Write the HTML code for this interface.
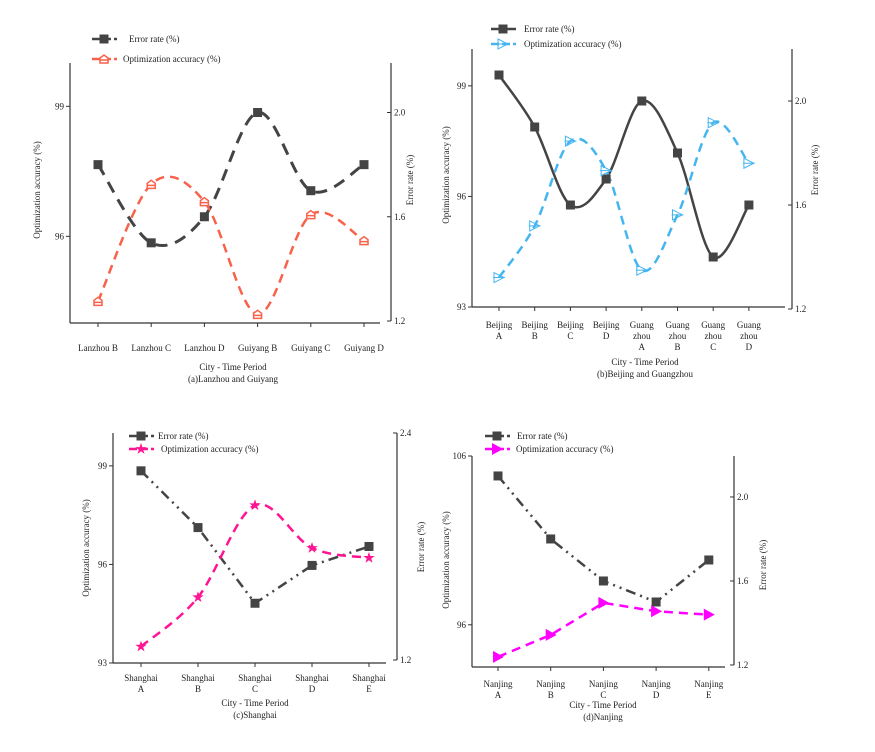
<!DOCTYPE html>
<html><head><meta charset="utf-8"><style>
html,body{margin:0;padding:0;background:#fff;width:875px;height:752px;overflow:hidden}
svg text{font-family:"Liberation Serif",serif;fill:#222}
</style></head><body>
<svg id="c" width="875" height="752"></svg>
<script>
// Panel (a)
const catsA = ["Lanzhou B","Lanzhou C","Lanzhou D","Guiyang B","Guiyang C","Guiyang D"];
const errA = [1.8,1.5,1.6,2.0,1.7,1.8];
const accA = [94.5,97.2,96.8,94.2,96.5,95.9];
const leftTicksA = [96,99];
const rightTicksA = [1.2,1.6,2.0];
// Panel (b)
const catsB = [["Beijing","A"],["Beijing","B"],["Beijing","C"],["Beijing","D"],["Guang","zhou","A"],["Guang","zhou","B"],["Guang","zhou","C"],["Guang","zhou","D"]];
const errB = [2.1,1.9,1.6,1.7,2.0,1.8,1.4,1.6];
const accB = [93.8,95.2,97.5,96.7,94.0,95.5,98.0,96.9];
const leftTicksB = [93,96,99];
const rightTicksB = [1.2,1.6,2.0];
// Panel (c)
const catsC = [["Shanghai","A"],["Shanghai","B"],["Shanghai","C"],["Shanghai","D"],["Shanghai","E"]];
const errC = [2.2,1.9,1.5,1.7,1.8];
const accC = [93.5,95.0,97.8,96.5,96.2];
const leftTicksC = [93,96,99];
const rightTicksC = [1.2,2.4];
// Panel (d)
const catsD = [["Nanjing","A"],["Nanjing","B"],["Nanjing","C"],["Nanjing","D"],["Nanjing","E"]];
const errD = [2.1,1.8,1.6,1.5,1.7];
const accD = [94.1,95.4,97.3,96.8,96.6];
const leftTicksD = [96,106];
const rightTicksD = [1.2,1.6,2.0];

const svg=document.getElementById('c');
const NS="http://www.w3.org/2000/svg";
function el(tag,attrs,parent){const e=document.createElementNS(NS,tag);for(const k in attrs)e.setAttribute(k,attrs[k]);(parent||svg).appendChild(e);return e;}
function txt(s,x,y,size,anchor,parent,rot){const t=el('text',{x:x,y:y,'font-size':size,'text-anchor':anchor||'middle'},parent);if(rot)t.setAttribute('transform',`rotate(${rot} ${x} ${y})`);t.textContent=s;return t;}
function smoothPath(pts){let d=`M${pts[0][0]},${pts[0][1]}`;for(let i=0;i<pts.length-1;i++){const p0=pts[i-1]||pts[i],p1=pts[i],p2=pts[i+1],p3=pts[i+2]||p2;const c1=[p1[0]+(p2[0]-p0[0])/6,p1[1]+(p2[1]-p0[1])/6],c2=[p2[0]-(p3[0]-p1[0])/6,p2[1]-(p3[1]-p1[1])/6];d+=` C${c1[0]},${c1[1]} ${c2[0]},${c2[1]} ${p2[0]},${p2[1]}`;}return d;}
function linePath(pts){return pts.map((p,i)=>(i?'L':'M')+p[0]+','+p[1]).join(' ');}
function marker(type,x,y,color,g){
  if(type==='square')return el('rect',{x:x-4.5,y:y-4.5,width:9,height:9,fill:'#444'},g);
  if(type==='house')return el('path',{d:`M${x-4},${y+4} L${x-4},${y-1} L${x},${y-4} L${x+4},${y-1} L${x+4},${y+4} Z M${x-4},${y+1} L${x+4},${y+1}`,fill:'#fff',stroke:color,'stroke-width':1.5},g);
  if(type==='otri')return el('path',{d:`M${x-5},${y-5} L${x+5},${y} L${x-5},${y+5} Z M${x-6},${y} L${x+6},${y}`,fill:'none',stroke:color,'stroke-width':1},g);
  if(type==='ftri')return el('path',{d:`M${x-5},${y-6} L${x+6},${y} L${x-5},${y+6} Z`,fill:color},g);
  if(type==='star'){let d='';for(let i=0;i<10;i++){const r=i%2?2.3:6,a=-Math.PI/2+i*Math.PI/5;d+=(i?'L':'M')+(x+r*Math.cos(a)).toFixed(1)+','+(y+r*Math.sin(a)).toFixed(1);}return el('path',{d:d+'Z',fill:color},g);}
}
function panel(P){
  const g=el('g',{});
  
  
  const ly=v=>P.lB-(v-P.lMin)/(P.lMax-P.lMin)*(P.lB-P.lT);
  const ry=v=>P.rB-(v-P.rMin)/(P.rMax-P.rMin)*(P.rB-P.rT);
  const xp=i=>P.x0+i*P.dx;
  // axes
  const ax=el('path',{d:`M${P.lx},${P.lT} L${P.lx},${P.lB} M${P.lx},${P.lB} L${P.xEnd},${P.lB} M${P.rx},${P.rT} L${P.rx},${P.rB}`,stroke:'#333','stroke-width':1.2,fill:'none'},g);
  
  
  P.lTicks.forEach(v=>{el('line',{x1:P.lx-4,x2:P.lx,y1:ly(v),y2:ly(v),stroke:'#333'},g);txt(String(v),P.lx-6,ly(v)+3,9,'end',g);});
  P.rTicks.forEach(v=>{el('line',{x1:P.rx,x2:P.rx-4,y1:ry(v),y2:ry(v),stroke:'#333'},g);txt(v.toFixed(1),P.rx+3,ry(v)+3,9,'start',g);});
  P.cats.forEach((c,i)=>{el('line',{x1:xp(i),x2:xp(i),y1:P.lB,y2:P.lB+4,stroke:'#333'},g);const lines=Array.isArray(c)?c:[c];lines.forEach((s,k)=>{const t=txt(s,xp(i),P.labY+k*11,9,'middle',g);});});
  const xt=txt('City - Time Period',P.cx,P.titY,9,'middle',g);
  const cp=txt(P.caption,P.cx,P.titY+12,9,'middle',g);
  const yl=txt('Optimization accuracy (%)',P.ltx,P.lty,9,'middle',g,-90);
  const yr=txt('Error rate (%)',P.rtx,P.rty,9,'middle',g,-90);
  // series
  const ep=P.err.map((v,i)=>[xp(i),ry(v)]);
  const ap=P.acc.map((v,i)=>[xp(i),ly(v)]);
  const e=el('path',{d:P.eSmooth?smoothPath(ep):linePath(ep),fill:'none',stroke:'#444','stroke-width':P.eW,'stroke-dasharray':P.eDash},g);
  
  
  const a=el('path',{d:P.aSmooth?smoothPath(ap):linePath(ap),fill:'none',stroke:P.aCol,'stroke-width':2.5,'stroke-dasharray':'9,6'},g);
  
  
  ep.forEach(p=>{const m=marker('square',p[0],p[1],'#444',g);});
  ap.forEach(p=>{const m=marker(P.aMark,p[0],p[1],P.aCol,g);});
  // legend
  const lg=el('g',{},g);
  
  
  el('line',{x1:P.legX,x2:P.legX+25,y1:P.legY,y2:P.legY,stroke:'#444','stroke-width':2.5,'stroke-dasharray':P.eDash==='none'?'none':'8,3'},lg);
  marker('square',P.legX+12,P.legY,'#444',lg);
  txt('Error rate (%)',P.legX+P.legT1,P.legY+3,9,'start',lg);
  el('line',{x1:P.legX,x2:P.legX+25,y1:P.legY+P.legD,y2:P.legY+P.legD,stroke:P.aCol,'stroke-width':2.5,'stroke-dasharray':'8,3'},lg);
  marker(P.aMark,P.legX+12,P.legY+P.legD,P.aCol,lg);
  txt('Optimization accuracy (%)',P.legX+P.legT2,P.legY+P.legD+3,9,'start',lg);
}
panel({name:'panel-a-lanzhou-guiyang',cats:catsA,err:errA,acc:accA,lTicks:leftTicksA,rTicks:rightTicksA,
 lx:70,lT:63,lB:323,lMin:94,lMax:100,rx:391,rT:63,rB:321,rMin:1.2,rMax:2.19,x0:98,dx:53.2,xEnd:380,
 labY:351,titY:370,cx:233,caption:'(a)Lanzhou and Guiyang',ltx:40,lty:190,rtx:413,rty:180,
 eSmooth:true,eW:3,eDash:'12,8',aSmooth:true,aCol:'#f8614a',aMark:'house',legX:92,legY:39,legD:20,legT1:37,legT2:31});
panel({name:'panel-b-beijing-guangzhou',cats:catsB,err:errB,acc:accB,lTicks:leftTicksB,rTicks:rightTicksB,
 lx:472,lT:49,lB:307,lMin:93,lMax:100,rx:792,rT:49,rB:309,rMin:1.2,rMax:2.2,x0:499,dx:35.7,xEnd:785,
 labY:328,titY:365,cx:645,caption:'(b)Beijing and Guangzhou',ltx:449,lty:175,rtx:818,rty:170,
 eSmooth:true,eW:2.5,eDash:'none',aSmooth:true,aCol:'#45b5f0',aMark:'otri',legX:491,legY:29,legD:15,legT1:33,legT2:33});
panel({name:'panel-c-shanghai',cats:catsC,err:errC,acc:accC,lTicks:leftTicksC,rTicks:rightTicksC,
 lx:113,lT:433,lB:663,lMin:93,lMax:100,rx:397,rT:433,rB:660,rMin:1.2,rMax:2.4,x0:141,dx:57,xEnd:386,
 labY:681,titY:706,cx:255,caption:'(c)Shanghai',ltx:89,lty:548,rtx:424,rty:547,
 eSmooth:false,eW:2.5,eDash:'10,5,2,5,2,5',aSmooth:true,aCol:'#ff1493',aMark:'star',legX:129,legY:436,legD:13,legT1:29,legT2:32});
panel({name:'panel-d-nanjing',cats:catsD,err:errD,acc:accD,lTicks:leftTicksD,rTicks:rightTicksD,
 lx:472,lT:456,lB:667,lMin:93.5,lMax:106,rx:734,rT:456,rB:665,rMin:1.2,rMax:2.195,x0:498,dx:52.7,xEnd:725,
 labY:687,titY:708,cx:603,caption:'(d)Nanjing',ltx:449,lty:560,rtx:766,rty:565,
 eSmooth:false,eW:2.5,eDash:'10,5,2,5,2,5',aSmooth:false,aCol:'#ff00ff',aMark:'ftri',legX:485,legY:436,legD:13,legT1:32,legT2:31});
</script>
</body></html>
